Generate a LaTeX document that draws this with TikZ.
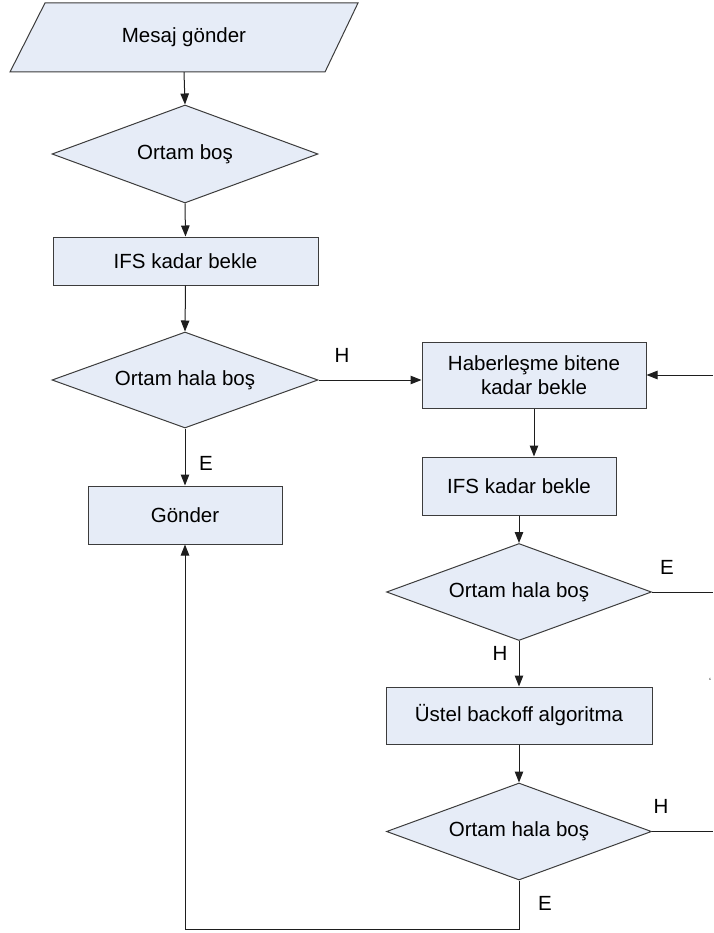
\documentclass[tikz,border=0pt]{standalone}
\usepackage{fontspec}
\setmainfont{Liberation Sans}
\usetikzlibrary{shapes.geometric,arrows.meta}
\definecolor{boxfill}{RGB}{230,236,247}
\definecolor{boxline}{RGB}{60,60,60}
\definecolor{wire}{RGB}{30,30,30}
\begin{document}
\begin{tikzpicture}[x=1pt,y=-1pt,
  every node/.style={font=\fontsize{20.5}{24.5}\selectfont, text=black},
  procbox/.style={rectangle, draw=boxline, fill=boxfill, line width=1pt, inner sep=0pt, align=center},
  decide/.style={diamond, draw=boxline, fill=boxfill, line width=1pt, inner sep=0pt, aspect=2.7},
  flow/.style={draw=wire, line width=1pt, -{Triangle[length=11pt,width=8.5pt]}},
  plainline/.style={draw=wire, line width=1pt},
  yesno/.style={font=\fontsize{20.5}{24.5}\selectfont, inner sep=0pt}]
\useasboundingbox (0,0) rectangle (713,933);

% input parallelogram
\draw[draw=boxline, fill=boxfill, line width=1pt] (45,3) -- (358,3) -- (325,72) -- (10,72) -- cycle;
\node[rectangle, minimum width=280pt, minimum height=69pt, inner sep=0pt] (msg) at (184,37.5) {Mesaj gönder};

% left column
\node[decide, minimum width=266pt, minimum height=98pt] (d1) at (185,154) {Ortam boş};
\node[procbox, minimum width=265pt, minimum height=48pt] (b1) at (185.5,261) {IFS kadar bekle};
\node[decide, minimum width=266pt, minimum height=96pt] (d2) at (185,380) {Ortam hala boş};
\node[procbox, minimum width=194pt, minimum height=58pt] (send) at (185,515) {Gönder};

% right column
\node[procbox, minimum width=224pt, minimum height=66pt] (hab) at (534,375) {Haberleşme bitene\\kadar bekle};
\node[procbox, minimum width=194pt, minimum height=58pt] (ifs2) at (519,486) {IFS kadar bekle};
\node[decide, minimum width=265pt, minimum height=97pt] (d3) at (519,592) {Ortam hala boş};
\node[procbox, minimum width=266pt, minimum height=57pt] (ust) at (519,715.5) {Üstel backoff algoritma};
\node[decide, minimum width=265pt, minimum height=97pt] (d4) at (519,831.5) {Ortam hala boş};

% loose ends at the right margin and the return corners
\coordinate (inR) at (713,375);
\coordinate (outE) at (713,592);
\coordinate (outH) at (713,831.5);
\coordinate (low) at (519,929);
\coordinate (lowL) at (185,929);

% connectors
\draw[flow] (msg.south) -- (d1.north);
\draw[flow] (d1.south) -- (b1.north);
\draw[flow] (b1.south) -- (d2.north);
\draw[flow] (d2.east) -- (d2.east -| hab.west);
\draw[flow] (d2.south) -- (send.north);
\draw[flow] (inR) -- (hab.east);
\draw[flow] (hab.south) -- (hab.south |- ifs2.north);
\draw[flow] (ifs2.south) -- (d3.north);
\draw[plainline] (d3.east) -- (outE);
\draw[flow] (d3.south) -- (ust.north);
\draw[flow] (ust.south) -- (d4.north);
\draw[plainline] (d4.east) -- (outH);
\draw[flow] (d4.south) -- (low) -- (lowL) -- (send.south);

% branch labels
\node[yesno] (lH1) at (342,355) {H};
\node[yesno] (lE1) at (206,463) {E};
\node[yesno] (lE2) at (667,567) {E};
\node[yesno] (lH2) at (500,653) {H};
\node[yesno] (lH3) at (661,806) {H};
\node[yesno] (lE3) at (545,903) {E};
\node[font=\fontsize{9}{9}\selectfont, inner sep=0pt] (tick) at (710,681) {`};
\end{tikzpicture}
\end{document}
